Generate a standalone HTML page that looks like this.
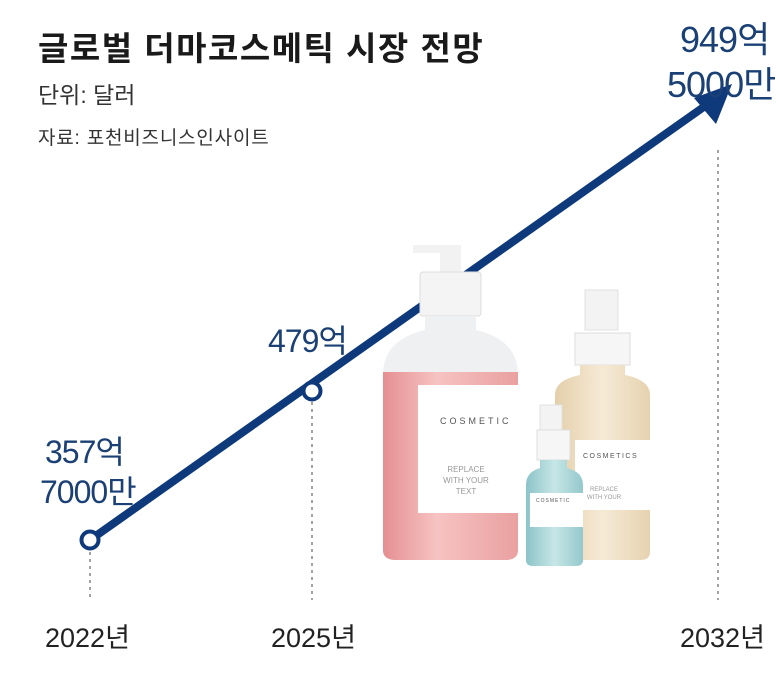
<!DOCTYPE html>
<html><head><meta charset="utf-8"><style>
body{margin:0;background:#fff;}
svg text{font-family:"Liberation Sans","Noto Sans CJK KR",sans-serif;}
</style></head><body>
<svg width="780" height="686" viewBox="0 0 780 686" xmlns="http://www.w3.org/2000/svg">
<defs>
<linearGradient id="pk" x1="0" x2="1"><stop offset="0" stop-color="#e58f92"/><stop offset="0.4" stop-color="#f6c3c2"/><stop offset="1" stop-color="#e9a0a0"/></linearGradient>
<linearGradient id="am" x1="0" x2="1"><stop offset="0" stop-color="#e4cfaa"/><stop offset="0.5" stop-color="#f6ead6"/><stop offset="1" stop-color="#e6d2b0"/></linearGradient>
<linearGradient id="bl" x1="0" x2="1"><stop offset="0" stop-color="#8cc4c8"/><stop offset="0.5" stop-color="#c6e6e6"/><stop offset="1" stop-color="#94c8cc"/></linearGradient>
</defs>
<text x="38" y="60" font-size="33" font-weight="bold" fill="#1a1a1a" letter-spacing="1.5">글로벌 더마코스메틱 시장 전망</text>
<text x="38" y="103" font-size="23" fill="#333">단위: 달러</text>
<text x="38" y="144" font-size="19" fill="#333" letter-spacing="0.8">자료: 포천비즈니스인사이트</text>
<g stroke="#666" stroke-width="1.2" stroke-dasharray="3,4">
<line x1="90" y1="552" x2="90" y2="600"/><line x1="312" y1="402" x2="312" y2="600"/><line x1="718" y1="150" x2="718" y2="600"/></g>
<line x1="90" y1="540" x2="715" y2="99" stroke="#0e3a7c" stroke-width="8"/>
<polygon points="732,84 694,98 716,124" fill="#0e3a7c"/>
<circle cx="90" cy="540" r="8.5" fill="#fff" stroke="#0e3a7c" stroke-width="4"/>
<circle cx="312" cy="391" r="8.5" fill="#fff" stroke="#0e3a7c" stroke-width="4"/>
<rect x="440" y="245" width="21" height="30" fill="#f2f2f2"/><rect x="413" y="245" width="40" height="8" fill="#f2f2f2"/>
<rect x="420" y="272" width="61" height="44" rx="3" fill="#f4f4f4" stroke="#ddd"/>
<path d="M425 316 H476 V330 Q518 340 518 375 V550 Q518 560 505 560 H396 Q383 560 383 550 V375 Q383 340 425 330Z" fill="#eef0f1"/>
<path d="M383 372 H518 V550 Q518 560 505 560 H396 Q383 560 383 550Z" fill="url(#pk)"/>
<rect x="418" y="385" width="100" height="128" fill="#fff"/>
<text x="440" y="424" font-size="9" letter-spacing="3" fill="#555">COSMETIC</text>
<text x="466" y="472" font-size="8" fill="#999" text-anchor="middle">REPLACE</text>
<text x="466" y="483" font-size="8" fill="#999" text-anchor="middle">WITH YOUR</text>
<text x="466" y="494" font-size="8" fill="#999" text-anchor="middle">TEXT</text>
<rect x="585" y="290" width="33" height="40" fill="#f3f3f3" stroke="#e0e0e0"/>
<rect x="575" y="333" width="55" height="32" fill="#f6f6f6" stroke="#ddd"/>
<path d="M580 365 H625 V375 Q650 380 650 395 V552 Q650 560 640 560 H565 Q555 560 555 552 V395 Q555 380 580 375Z" fill="url(#am)"/>
<rect x="575" y="440" width="75" height="70" fill="#fff"/>
<text x="583" y="458" font-size="7" letter-spacing="1.5" fill="#555">COSMETICS</text>
<text x="604" y="491" font-size="6" fill="#999" text-anchor="middle">REPLACE</text>
<text x="604" y="499" font-size="6" fill="#999" text-anchor="middle">WITH YOUR</text>
<rect x="540" y="405" width="22" height="25" fill="#f3f3f3" stroke="#e0e0e0"/>
<rect x="537" y="430" width="33" height="30" fill="#f6f6f6" stroke="#ddd"/>
<path d="M540 460 H567 V468 Q583 472 583 485 V560 Q583 566 576 566 H533 Q526 566 526 560 V485 Q526 472 540 468Z" fill="url(#bl)"/>
<rect x="530" y="493" width="53" height="34" fill="#fff"/>
<text x="536" y="502" font-size="5" letter-spacing="1" fill="#555">COSMETIC</text>
<g fill="#1a4075" font-size="32" letter-spacing="-1">
<text x="45" y="463">357억</text><text x="40" y="503">7000만</text>
<text x="268" y="352">479억</text>
<text x="680" y="52" font-size="36">949억</text><text x="667" y="97" font-size="36">5000만</text></g>
<g fill="#222" font-size="27" letter-spacing="0">
<text x="45" y="647">2022년</text><text x="271" y="647">2025년</text><text x="680" y="647">2032년</text></g>
</svg>
</body></html>
